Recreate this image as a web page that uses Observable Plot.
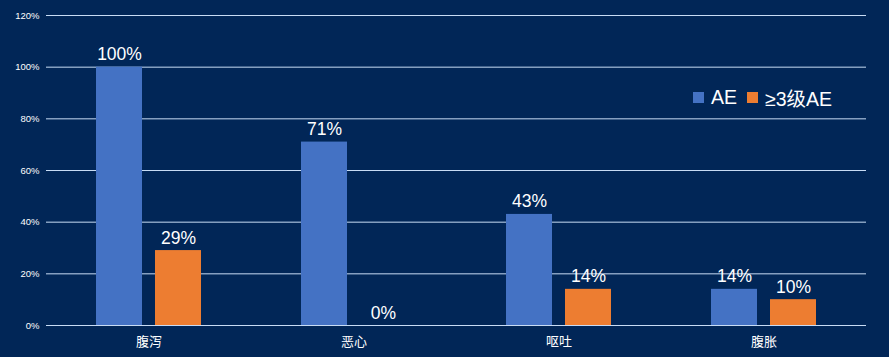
<!DOCTYPE html>
<html>
<head>
<meta charset="utf-8">
<script src="https://cdn.jsdelivr.net/npm/d3@7"></script>
<script src="https://cdn.jsdelivr.net/npm/@observablehq/plot@0.6"></script>
<style>
  html, body { margin: 0; padding: 0; background: #012657; }
  #wrap { position: relative; width: 889px; height: 357px; background: #012657; overflow: hidden; }
  #legend { position: absolute; left: 693px; top: 83px; display: flex; align-items: center; color: #fff;
    font-family: "Liberation Sans", Arial, "Noto Sans CJK SC", sans-serif; font-size: 19.5px; }
  #legend .sw { width: 11px; height: 11px; display: inline-block; margin-right: 7px; }
  #legend .item { display: flex; align-items: center; margin-right: 10px; }
</style>
</head>
<body>
<div id="wrap"></div>
<script>
const categories = ["腹泻", "恶心", "呕吐", "腹胀"];
const seriesNames = ["AE", "≥3级AE"];
const aeValues = [100, 71, 43, 14];
const grade3Values = [29, 0, 14, 10];
const yTicks = [0, 20, 40, 60, 80, 100, 120];
const colors = ["#4472C4", "#ED7D31"];

const data = [];
categories.forEach((c, i) => {
  data.push({cat: c, series: seriesNames[0], value: aeValues[i]});
  data.push({cat: c, series: seriesNames[1], value: grade3Values[i]});
});

const font = '"Liberation Sans", Arial, "Noto Sans CJK SC", sans-serif';

const chart = Plot.plot({
  width: 889,
  height: 357,
  marginLeft: 46,
  marginRight: 23,
  marginTop: 15,
  marginBottom: 32,
  style: {background: "#012657", color: "#ffffff", fontFamily: font},
  fx: {domain: categories, padding: 0, axis: null, label: null},
  x: {domain: seriesNames, paddingInner: 0.22, paddingOuter: 0.847, axis: null},
  y: {domain: [0, 120], axis: null, label: null},
  color: {domain: seriesNames, range: colors},
  marks: [
    Plot.gridY(yTicks, {stroke: "#c8dcf5", strokeOpacity: 1, strokeWidth: 1}),
    Plot.barY(data, {fx: "cat", x: "series", y: "value", fill: "series"}),
    Plot.text(data, {fx: "cat", x: "series", y: "value", text: d => d.value + "%", fill: "#ffffff",
      fontSize: 17.5, lineAnchor: "bottom", dy: -7, textAnchor: "middle"}),
    Plot.axisY(yTicks, {tickFormat: d => d + "%", tickSize: 0, tickPadding: 7, fontSize: 9.5, fill: "#ffffff", label: null}),
    Plot.axisFx({anchor: "bottom", tickSize: 0, tickPadding: 11, fontSize: 13, fill: "#ffffff", label: null})
  ]
});

const wrap = document.getElementById("wrap");
wrap.appendChild(chart);
const legend = document.createElement("div");
legend.id = "legend";
seriesNames.forEach((s, i) => {
  const it = document.createElement("span");
  it.className = "item";
  const sw = document.createElement("span");
  sw.className = "sw";
  sw.style.background = colors[i];
  it.appendChild(sw);
  it.appendChild(document.createTextNode(s));
  legend.appendChild(it);
});
wrap.appendChild(legend);
</script>
</body>
</html>
